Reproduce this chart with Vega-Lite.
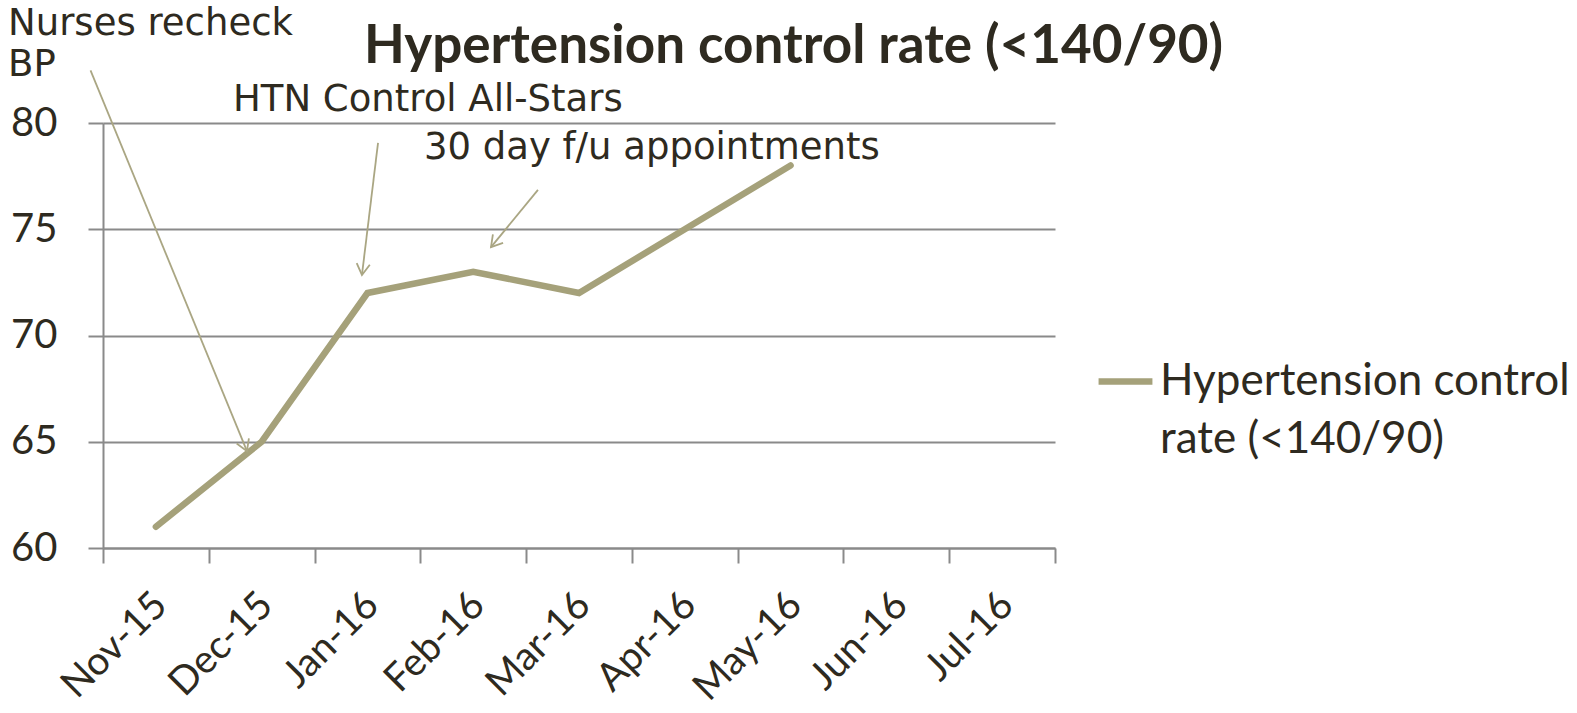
{
  "$schema": "https://vega.github.io/schema/vega-lite/v6.json",
  "autosize": {"type": "none"},
  "width": 952,
  "height": 425,
  "padding": {"left": 103, "top": 123, "right": 522, "bottom": 165},
  "background": "white",
  "config": {
    "view": {"stroke": null},
    "font": "Lato",
    "style": {"guide-label": {"lineHeight": 58}}
  },
  "datasets": {
    "rates": [
      {"month": "Nov-15", "rate": 61, "series": "Hypertension control rate (<140/90)"},
      {"month": "Dec-15", "rate": 65, "series": "Hypertension control rate (<140/90)"},
      {"month": "Jan-16", "rate": 72, "series": "Hypertension control rate (<140/90)"},
      {"month": "Feb-16", "rate": 73, "series": "Hypertension control rate (<140/90)"},
      {"month": "Mar-16", "rate": 72, "series": "Hypertension control rate (<140/90)"},
      {"month": "Apr-16", "rate": 75, "series": "Hypertension control rate (<140/90)"},
      {"month": "May-16", "rate": 78, "series": "Hypertension control rate (<140/90)"},
      {"month": "Jun-16", "rate": null, "series": "Hypertension control rate (<140/90)"},
      {"month": "Jul-16", "rate": null, "series": "Hypertension control rate (<140/90)"}
    ],
    "arrows": [
      {"name": "Nurses recheck BP", "xs": -0.118, "ys": 82.48, "xe": 1.361, "ye": 64.56, "angle": -22.3},
      {"name": "HTN Control All-Stars", "xs": 2.600, "ys": 79.06, "xe": 2.448, "ye": 72.85, "angle": 6.9},
      {"name": "30 day f/u appointments", "xs": 4.112, "ys": 76.85, "xe": 3.668, "ye": 74.16, "angle": 39.5}
    ],
    "notes": [
      {"label": ["Nurses recheck", "BP"], "x": -0.898, "y": 84.14},
      {"label": ["HTN Control All-Stars"], "x": 1.229, "y": 80.55},
      {"label": ["30 day f/u appointments"], "x": 3.034, "y": 78.29}
    ],
    "heading": [
      {"label": "Hypertension control rate (<140/90)", "x": 2.467, "y": 82.81}
    ]
  },
  "layer": [
    {
      "data": {"name": "rates"},
      "mark": {"type": "line", "strokeWidth": 6.5, "strokeCap": "round", "strokeJoin": "miter"},
      "encoding": {
        "x": {
          "field": "month", "type": "nominal", "sort": null, "bandPosition": 0.5,
          "scale": {"type": "band", "paddingInner": 0, "paddingOuter": 0},
          "axis": {
            "title": null, "labelAngle": -45, "tickBand": "extent",
            "labelFont": "Lato", "labelFontSize": 39, "labelColor": "#2e2a20",
            "labelPadding": 22, "labelOffset": -9,
            "tickSize": 15, "tickWidth": 2, "tickColor": "#8a8a8a",
            "domainColor": "#8a8a8a", "domainWidth": 2, "grid": false
          }
        },
        "y": {
          "field": "rate", "type": "quantitative",
          "scale": {"domain": [60, 80], "nice": false, "zero": false},
          "axis": {
            "title": null, "values": [60, 65, 70, 75, 80], "grid": true,
            "gridColor": "#8a8a8a", "gridWidth": 2,
            "labelFont": "Lato", "labelFontSize": 40, "labelColor": "#2e2a20",
            "labelPadding": 31, "tickSize": 15, "tickWidth": 2, "tickColor": "#8a8a8a",
            "domainColor": "#8a8a8a", "domainWidth": 2
          }
        },
        "color": {
          "field": "series", "type": "nominal",
          "scale": {"range": ["#a5a17a"]},
          "legend": {
            "title": null, "orient": "none", "legendX": 992, "legendY": 228,
            "padding": 0, "symbolType": "stroke", "symbolSize": 2900,
            "symbolStrokeWidth": 6.5,
            "labelFont": "Lato", "labelFontSize": 44, "labelColor": "#2e2a20",
            "labelLimit": 600, "labelOffset": 4,
            "labelExpr": "['Hypertension control', 'rate (<140/90)']"
          }
        }
      }
    },
    {
      "data": {"name": "arrows"},
      "mark": {"type": "rule", "color": "#aaa683", "strokeWidth": 1.8},
      "encoding": {
        "x": {"field": "xs", "type": "quantitative", "scale": {"domain": [0, 9], "nice": false, "zero": false}, "axis": null},
        "y": {"field": "ys", "type": "quantitative", "scale": {"domain": [60, 80], "nice": false, "zero": false}},
        "x2": {"field": "xe"},
        "y2": {"field": "ye"}
      }
    },
    {
      "data": {"name": "arrows"},
      "mark": {"type": "point", "shape": "M-0.6,-1L0,0L0.6,-1", "filled": false, "stroke": "#aaa683", "strokeWidth": 1.8, "size": 484, "opacity": 1},
      "encoding": {
        "x": {"field": "xe", "type": "quantitative", "scale": {"domain": [0, 9], "nice": false, "zero": false}, "axis": null},
        "y": {"field": "ye", "type": "quantitative", "scale": {"domain": [60, 80], "nice": false, "zero": false}},
        "angle": {"field": "angle", "type": "quantitative", "scale": null}
      }
    },
    {
      "data": {"name": "notes"},
      "mark": {"type": "text", "align": "left", "baseline": "alphabetic", "font": "DejaVu Sans", "fontSize": 37, "lineHeight": 41, "color": "#2e2a20"},
      "encoding": {
        "x": {"field": "x", "type": "quantitative", "scale": {"domain": [0, 9], "nice": false, "zero": false}, "axis": null},
        "y": {"field": "y", "type": "quantitative", "scale": {"domain": [60, 80], "nice": false, "zero": false}},
        "text": {"field": "label"}
      }
    },
    {
      "data": {"name": "heading"},
      "mark": {"type": "text", "align": "left", "baseline": "alphabetic", "font": "Lato", "fontWeight": "bold", "fontSize": 53, "color": "#2e2a20"},
      "encoding": {
        "x": {"field": "x", "type": "quantitative", "scale": {"domain": [0, 9], "nice": false, "zero": false}, "axis": null},
        "y": {"field": "y", "type": "quantitative", "scale": {"domain": [60, 80], "nice": false, "zero": false}},
        "text": {"field": "label"}
      }
    }
  ],
  "resolve": {"scale": {"x": "independent"}, "axis": {"x": "independent"}}
}
